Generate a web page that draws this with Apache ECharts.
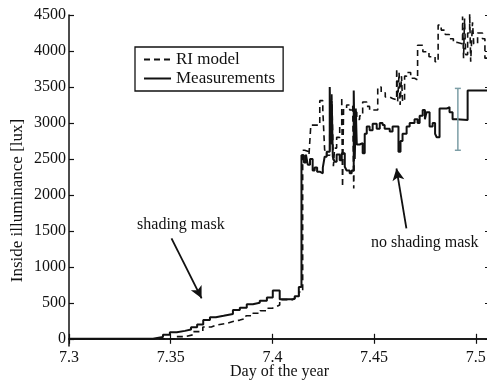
<!DOCTYPE html>
<html>
<head>
<meta charset="utf-8">
<script src="https://cdn.jsdelivr.net/npm/echarts@6/dist/echarts.min.js"></script>
<style>html,body{margin:0;padding:0;background:#fff;}#c{width:487px;height:383px;}</style>
</head>
<body>
<div id="c"></div>
<script>
// ---- data ----
const xTicks = [7.3, 7.35, 7.4, 7.45, 7.5];
const yTicks = [0, 500, 1000, 1500, 2000, 2500, 3000, 3500, 4000, 4500];

const measDays = [7.3000, 7.3413, 7.3462, 7.3496, 7.3530, 7.3570, 7.3600, 7.3630, 7.3660, 7.3693,
  7.3722, 7.3760, 7.3806, 7.3840, 7.3874, 7.3904, 7.3938, 7.3973, 7.4002, 7.4036,
  7.4100, 7.4110, 7.4130, 7.4143, 7.4155, 7.4165, 7.4174, 7.4185, 7.4198, 7.4208,
  7.4220, 7.4235, 7.4248, 7.4257, 7.4267, 7.4282, 7.4287, 7.4292, 7.4297, 7.4306,
  7.4316, 7.4331, 7.4341, 7.4356, 7.4365, 7.4380, 7.4390, 7.4400, 7.4405, 7.4410,
  7.4415, 7.4429, 7.4444, 7.4454, 7.4464, 7.4478, 7.4493, 7.4513, 7.4528, 7.4542,
  7.4552, 7.4577, 7.4591, 7.4620, 7.4630, 7.4640, 7.4660, 7.4675, 7.4699, 7.4714,
  7.4724, 7.4739, 7.4750, 7.4758, 7.4773, 7.4788, 7.4800, 7.4808, 7.4822, 7.4857,
  7.4871, 7.4886, 7.4906, 7.4960, 7.5100];
const measLux = [0, 25, 55, 90, 110, 130, 160, 200, 260, 300,
  320, 345, 400, 430, 480, 500, 530, 575, 670, 550,
  560, 590, 720, 2550, 2450, 2560, 2420, 2500, 2340, 2380,
  2320, 2300, 2380, 2530, 2600, 3500, 2700, 3300, 2530, 2460,
  2560, 2480, 2580, 2390, 2340, 2300, 2340, 3450, 2500, 3200,
  2700, 2720, 2580, 2850, 2950, 2900, 2990, 2920, 3000, 2970,
  2920, 2880, 2950, 2600, 2750, 2850, 2950, 3000, 3050, 3000,
  3100, 3180, 3050, 3150, 2950, 3000, 2850, 2800, 3200, 3220,
  3150, 3050, 3040, 3450, 3450];

const modelDays = [7.3000, 7.3520, 7.3570, 7.3609, 7.3658, 7.3700, 7.3722, 7.3776, 7.3806, 7.3840,
  7.3870, 7.3904, 7.3940, 7.3973, 7.4000, 7.4022, 7.4036, 7.4100, 7.4110, 7.4130,
  7.4149, 7.4159, 7.4180, 7.4189, 7.4233, 7.4248, 7.4257, 7.4267, 7.4282, 7.4292,
  7.4300, 7.4306, 7.4316, 7.4331, 7.4341, 7.4345, 7.4350, 7.4365, 7.4380, 7.4395,
  7.4400, 7.4405, 7.4415, 7.4429, 7.4444, 7.4464, 7.4478, 7.4518, 7.4535, 7.4555,
  7.4577, 7.4591, 7.4611, 7.4616, 7.4623, 7.4628, 7.4635, 7.4640, 7.4650, 7.4660,
  7.4680, 7.4699, 7.4714, 7.4740, 7.4770, 7.4800, 7.4815, 7.4830, 7.4850, 7.4870,
  7.4890, 7.4906, 7.4935, 7.4940, 7.4945, 7.4950, 7.4960, 7.4970, 7.4975, 7.4984,
  7.4990, 7.5009, 7.5033, 7.5045, 7.5100];
const modelLux = [0, 30, 55, 100, 165, 190, 215, 240, 260, 285,
  320, 355, 390, 425, 450, 470, 545, 555, 590, 650,
  2620, 2600, 2560, 2970, 3310, 3180, 2620, 2550, 2900, 3410,
  2400, 2650, 2800, 2950, 3360, 2110, 3200, 3250, 3180, 3250,
  2090, 3150, 3050, 3100, 3290, 3230, 3180, 3500, 3420, 3360,
  3340, 3320, 3755, 3300, 3700, 3250, 3650, 3300, 3650, 3700,
  3620, 3600, 4080, 3990, 3920, 3850, 4360, 4290, 4230, 4170,
  4120, 4100, 4480, 3900, 4450, 3950, 4250, 4520, 3850, 4400,
  4100, 4250, 4170, 3900, 3900];

const errDay = [7.4912];
const errLow = [2620];
const errHigh = [3480];

const legendNames = ['RI model', 'Measurements'];
const xName = 'Day of the year';
const yName = 'Inside illuminance [lux]';

// ---- chart ----
const FONT = '"Liberation Serif", "Times New Roman", serif';
const zip = (a, b) => a.map((v, i) => [v, b[i]]);
const chart = echarts.init(document.getElementById('c'), null, { renderer: 'canvas' });

const axisLine = { show: true, lineStyle: { color: '#111', width: 1.5 } };
const tickIn = { show: true, inside: true, length: 5, lineStyle: { color: '#111', width: 1.2 } };

chart.setOption({
  animation: false,
  backgroundColor: '#fff',
  grid: { left: 69, top: 15, width: 421, height: 331, containLabel: false, outerBoundsMode: 'none' },
  legend: {
    data: legendNames.map(n => ({ name: n, itemStyle: { opacity: 0 } })),
    orient: 'vertical',
    left: 135, top: 47,
    padding: [4, 8, 4, 8],
    itemGap: 2,
    itemWidth: 27, itemHeight: 16,
    itemTextGap: 8,
    borderColor: '#111', borderWidth: 1.3,
    textStyle: { fontFamily: FONT, fontSize: 17, color: '#111' }
  },
  xAxis: [{
    type: 'value', min: 7.3, max: 7.507,
    name: xName, nameLocation: 'middle', nameGap: 18, nameMoveOverlap: false,
    nameTextStyle: { fontFamily: FONT, fontSize: 16, color: '#111' },
    axisLine, axisTick: Object.assign({}, tickIn, { customValues: xTicks }),
    axisLabel: { customValues: xTicks, fontFamily: FONT, fontSize: 16, color: '#111', margin: 4,
      formatter: v => String(+v.toFixed(2)) },
    splitLine: { show: false }
  }, {
    type: 'value', position: 'top', min: 7.3, max: 7.507,
    axisLine, axisTick: Object.assign({}, tickIn, { customValues: xTicks }),
    axisLabel: { show: false }, splitLine: { show: false }
  }],
  yAxis: [{
    type: 'value', min: -100, max: 4500,
    name: yName, nameLocation: 'middle', nameGap: 43, nameRotate: 90, nameMoveOverlap: false,
    nameTextStyle: { fontFamily: FONT, fontSize: 17, color: '#111', padding: [0, 40, 0, 0] },
    axisLine, axisTick: Object.assign({}, tickIn, { customValues: yTicks }),
    axisLabel: { customValues: yTicks, fontFamily: FONT, fontSize: 16, color: '#111', margin: 3,
      formatter: v => String(Math.round(v)) },
    splitLine: { show: false }
  }, {
    type: 'value', position: 'right', min: -100, max: 4500,
    axisLine, axisTick: Object.assign({}, tickIn, { customValues: yTicks }),
    axisLabel: { show: false }, splitLine: { show: false }
  }],
  series: [{
    name: legendNames[0], type: 'line', step: 'end', showSymbol: false, symbol: 'none',
    data: zip(modelDays, modelLux),
    lineStyle: { color: '#111', width: 1.6, type: [6, 4] },
    itemStyle: { color: '#111' }, z: 3
  }, {
    name: legendNames[1], type: 'line', step: 'end', showSymbol: false, symbol: 'none',
    data: zip(measDays, measLux),
    lineStyle: { color: '#111', width: 2 },
    itemStyle: { color: '#111' }, z: 4,
    markLine: {
      silent: true, symbol: ['none', 'arrow'], symbolSize: [9, 12], animation: false,
      label: { show: false },
      lineStyle: { color: '#111', width: 1.8, type: 'solid' },
      data: [
        [{ coord: [7.3504, 1395] }, { coord: [7.3652, 562] }],
        [{ coord: [7.4659, 1534] }, { coord: [7.4610, 2367] }]
      ]
    },
    markPoint: {
      silent: true, symbol: 'rect', symbolSize: 1, itemStyle: { color: 'rgba(0,0,0,0)' },
      label: { show: true, position: 'inside', fontFamily: FONT, fontSize: 16, color: '#111' },
      data: [
        { coord: [7.3550, 1580], label: { formatter: 'shading mask' } },
        { coord: [7.4749, 1334], label: { formatter: 'no shading mask' } }
      ]
    }
  }, {
    name: 'error', type: 'custom', z: 5,
    data: errDay.map((d, i) => [d, errLow[i], errHigh[i]]),
    renderItem: (params, api) => {
      const x = api.value(0);
      const p1 = api.coord([x, api.value(1)]);
      const p2 = api.coord([x, api.value(2)]);
      const st = { stroke: '#7d9ea6', lineWidth: 1.5 };
      return { type: 'group', children: [
        { type: 'line', shape: { x1: p1[0], y1: p1[1], x2: p2[0], y2: p2[1] }, style: st },
        { type: 'line', shape: { x1: p1[0] - 3, y1: p1[1], x2: p1[0] + 3, y2: p1[1] }, style: st },
        { type: 'line', shape: { x1: p2[0] - 3, y1: p2[1], x2: p2[0] + 3, y2: p2[1] }, style: st }
      ]};
    }
  }]
});
</script>
</body>
</html>
